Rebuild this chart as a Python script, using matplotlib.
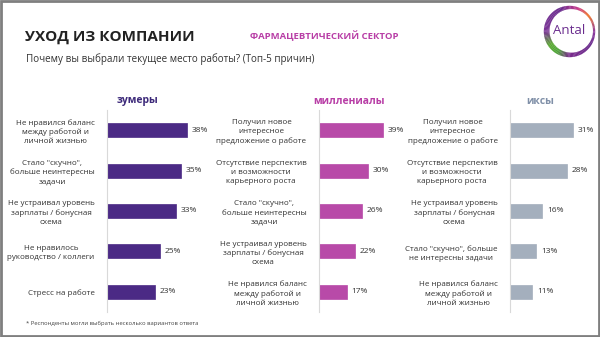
import matplotlib
matplotlib.use("Agg")
import matplotlib.pyplot as plt
import numpy as np
from matplotlib.patches import Wedge, Rectangle
from matplotlib.colors import to_rgb

plt.rcParams['font.family'] = ['Open Sans', 'DejaVu Sans']

title = "УХОД ИЗ КОМПАНИИ"
sector = "ФАРМАЦЕВТИЧЕСКИЙ СЕКТОР"
subtitle = "Почему вы выбрали текущее место работы? (Топ-5 причин)"
footnote = "* Респонденты могли выбрать несколько вариантов ответа"

zoomer_title = "зумеры"
zoomer_labels = ["Не нравился баланс\nмежду работой и\nличной жизнью",
                 "Стало \"скучно\",\nбольше неинтересны\nзадачи",
                 "Не устраивал уровень\nзарплаты / бонусная\nсхема",
                 "Не нравилось\nруководство / коллеги",
                 "Стресс на работе"]
zoomer_values = [38, 35, 33, 25, 23]

mill_title = "миллениалы"
mill_labels = ["Получил новое\nинтересное\nпредложение о работе",
               "Отсутствие перспектив\nи возможности\nкарьерного роста",
               "Стало \"скучно\",\nбольше неинтересны\nзадачи",
               "Не устраивал уровень\nзарплаты / бонусная\nсхема",
               "Не нравился баланс\nмежду работой и\nличной жизнью"]
mill_values = [39, 30, 26, 22, 17]

x_title = "иксы"
x_labels = ["Получил новое\nинтересное\nпредложение о работе",
            "Отсутствие перспектив\nи возможности\nкарьерного роста",
            "Не устраивал уровень\nзарплаты / бонусная\nсхема",
            "Стало \"скучно\", больше\nне интересны задачи",
            "Не нравился баланс\nмежду работой и\nличной жизнью"]
x_values = [31, 28, 16, 13, 11]

W, H = 600, 337
fig = plt.figure(figsize=(6, 3.37), dpi=100)
fig.patch.set_facecolor('white')

def px(x, y, w, h):
    return [x / W, 1 - (y + h) / H, w / W, h / H]

# frame
fig.patches.append(Rectangle((0.0015, 0.0025), 0.997, 0.995, transform=fig.transFigure,
                             fill=False, edgecolor='#7f7f7f', linewidth=2))

fig.text(25 / W, 1 - 37 / H, title, fontsize=11, fontweight='bold', color='#222222',
         va='center', ha='left')
fig.text(250 / W, 1 - 36 / H, sector, fontsize=6.8, fontweight='bold', color='#B83EA6',
         va='center', ha='left')
fig.text(26 / W, 1 - 59.5 / H, subtitle, fontsize=7.1, color='#333333', va='center', ha='left')
fig.text(26 / W, 1 - 323 / H, footnote, fontsize=4.25, color='#444444', va='center', ha='left')

panels = [
    (zoomer_title, zoomer_labels, zoomer_values, 107, 2.1, 45, '#4B2A85', '#3D2A7A'),
    (mill_title, mill_labels, mill_values, 319, 1.64, 45, '#B84AA8', '#B83EA6'),
    (x_title, x_labels, x_values, 510, 2.03, 40, '#A4AFBD', '#8090A8'),
]

for ptitle, labels, values, x0, scale, xmax, color, tcolor in panels:
    ax = fig.add_axes(px(x0, 110, xmax * scale, 202))
    y = np.arange(len(values))
    ax.barh(y, values, height=0.35, color=color, edgecolor=color, linewidth=0.5)
    ax.set_xlim(0, xmax)
    ax.set_ylim(len(values) - 0.5, -0.5)
    for s in ['top', 'right', 'bottom']:
        ax.spines[s].set_visible(False)
    ax.spines['left'].set_color('#D9D9D9')
    ax.spines['left'].set_linewidth(0.8)
    ax.set_xticks([])
    ax.set_yticks(y)
    ax.set_yticklabels(labels, fontsize=5.8, color='#333333', multialignment='center',
                       linespacing=1.35)
    ax.tick_params(axis='y', length=0, pad=9)
    for yi, v in zip(y, values):
        ax.text(v + 1.6 / scale * 3, yi, f"{v}%", va='center', ha='left', fontsize=6,
                color='#333333')
    fig.text((x0 + 30) / W, 1 - 101 / H, ptitle, fontsize=7.5, fontweight='bold',
             color=tcolor, ha='center', va='center')

# logo
lax = fig.add_axes(px(543, 5, 53, 53))
lax.set_xlim(-1, 1)
lax.set_ylim(-1, 1)
lax.set_aspect('equal')
lax.axis('off')
stops = [(0, '#8E3A9E'), (40, '#F07A2A'), (70, '#C83A8C'), (110, '#6A2C8E'),
         (180, '#7B3596'), (215, '#5BAA32'), (240, '#4FA53A'), (270, '#7A2B8C'),
         (330, '#6A2C8E'), (360, '#8E3A9E')]
angs = np.array([s[0] for s in stops], float)
cols = np.array([to_rgb(s[1]) for s in stops])
n = 120
for i in range(n):
    a0 = 360 * i / n
    a1 = 360 * (i + 1) / n + 0.5
    am = (a0 + a1) / 2
    c = [np.interp(am % 360, angs, cols[:, k]) for k in range(3)]
    w_ = 0.15 + 0.07 * np.cos(np.radians(am - 200))
    lax.add_patch(Wedge((0, 0), 0.97, a0, a1, width=w_, facecolor=c, edgecolor='none'))
lax.text(0, 0.02, "Antal", ha='center', va='center', fontsize=9.5, color='#6A2C8E')

fig.savefig("out.png", dpi=100, facecolor='white')
